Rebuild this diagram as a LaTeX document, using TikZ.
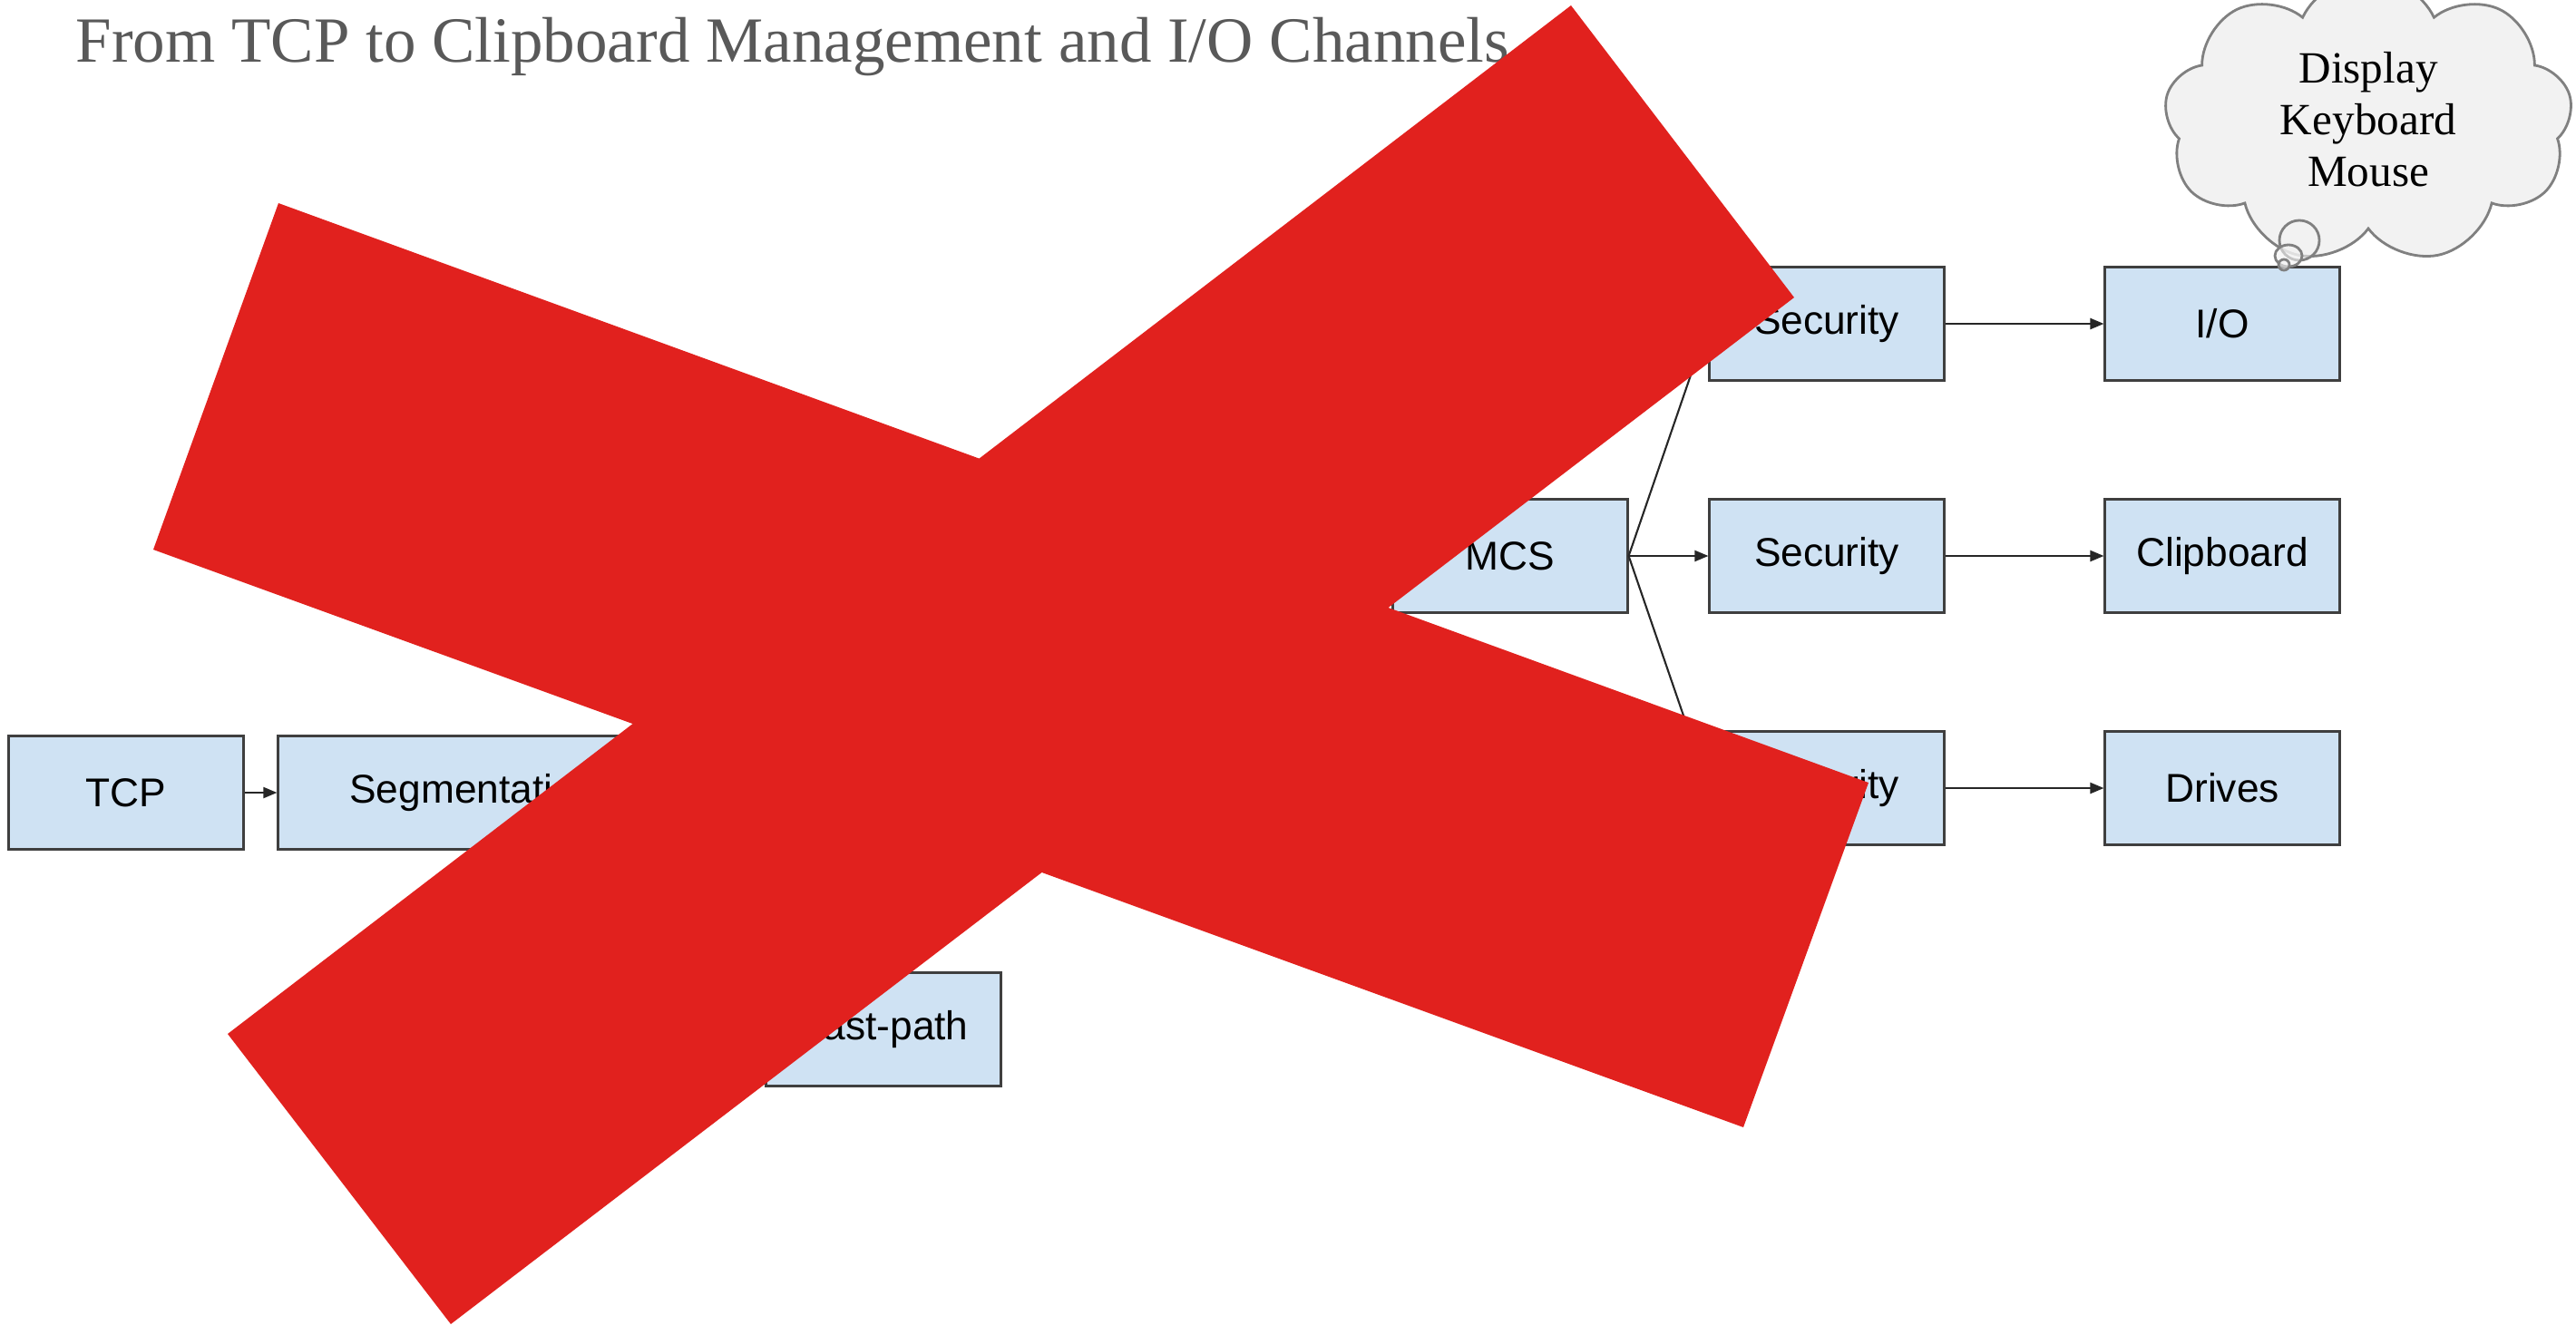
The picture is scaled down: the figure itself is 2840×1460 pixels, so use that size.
\documentclass[tikz,border=0pt]{standalone}
\usepackage{fontspec}
\setmainfont{Liberation Serif}
\setsansfont{Liberation Sans}
\usetikzlibrary{arrows.meta,shapes.symbols}

\definecolor{boxblue}{HTML}{CFE2F3}
\definecolor{boxline}{HTML}{3F3F3F}
\definecolor{crossred}{HTML}{E1211E}
\definecolor{titlegray}{HTML}{595959}
\definecolor{cloudfill}{HTML}{F2F2F2}
\definecolor{cloudline}{HTML}{808080}

\begin{document}
\begin{tikzpicture}[
  x=0.01cm, y=-0.01cm,
  font=\sffamily\fontsize{12.6}{14}\selectfont,
  >=Stealth,
  box/.style={draw=boxline, fill=boxblue, line width=0.85pt, inner sep=0pt,
    minimum width=2.58cm, minimum height=1.24cm},
  widebox/.style={box, minimum width=4.30cm},
  arr/.style={-{Triangle[length=0.15cm, width=0.12cm]}, line width=0.6pt, draw=black!85},
  ttl/.style={font=\rmfamily\fontsize{20.2}{24}\selectfont, text=titlegray, inner sep=0pt},
  thought/.style={cloud, cloud puffs=9, cloud puff arc=130, draw=cloudline, fill=cloudfill,
    line width=0.8pt, minimum width=4.50cm, minimum height=2.40cm, inner sep=0pt,
    align=center, font=\rmfamily\fontsize{14}{16.2}\selectfont},
  bubble/.style={draw=cloudline, fill=cloudfill, fill opacity=0.6, line width=0.8pt},
  cross/.style={fill=crossred},
]
  \useasboundingbox (0,0) rectangle (2840,1460);

  \node[ttl, anchor=base west] (title) at (83,68)
    {From TCP to Clipboard Management and I/O Channels};

  % transport side
  \node[box]     (tcp)  at (139,874)   {TCP};
  \node[widebox] (seg)  at (522,874)   {Segmentation};
  \node[box]     (fast) at (974,1135)  {Fast-path};

  % channel side
  \node[box] (mcs)  at (1665,613)  {MCS};
  \node[box] (sec1) at (2014,357)  {Security};
  \node[box] (sec2) at (2014,613)  {Security};
  \node[box] (sec3) at (2014,869)  {Security};
  \node[box] (io)   at (2450,357)  {I/O};
  \node[box] (clip) at (2450,613)  {Clipboard};
  \node[box] (drv)  at (2450,869)  {Drives};

  \draw[arr] (tcp.east) -- (seg.west);
  \draw[arr] (mcs.east) -- (sec1.west);
  \draw[arr] (mcs.east) -- (sec2.west);
  \draw[arr] (mcs.east) -- (sec3.west);
  \draw[arr] (sec1.east) -- (io.west);
  \draw[arr] (sec2.east) -- (clip.west);
  \draw[arr] (sec3.east) -- (drv.west);

  % thought cloud over I/O
  \node[thought] (devices) at (2611,132) {Display\\Keyboard\\Mouse};
  \draw[bubble] (2535,265) circle [radius=0.22cm];
  \draw[bubble] (2523,282) circle [x radius=0.15cm, y radius=0.12cm];
  \draw[bubble] (2518,292) circle [radius=0.06cm];

  % red cross
  \fill[cross] (307,224) -- (2060,863) -- (1922,1243) -- (169,606) -- cycle;
  \fill[cross] (1732,6) -- (1978,328) -- (497,1460) -- (251,1140) -- cycle;
\end{tikzpicture}
\end{document}
